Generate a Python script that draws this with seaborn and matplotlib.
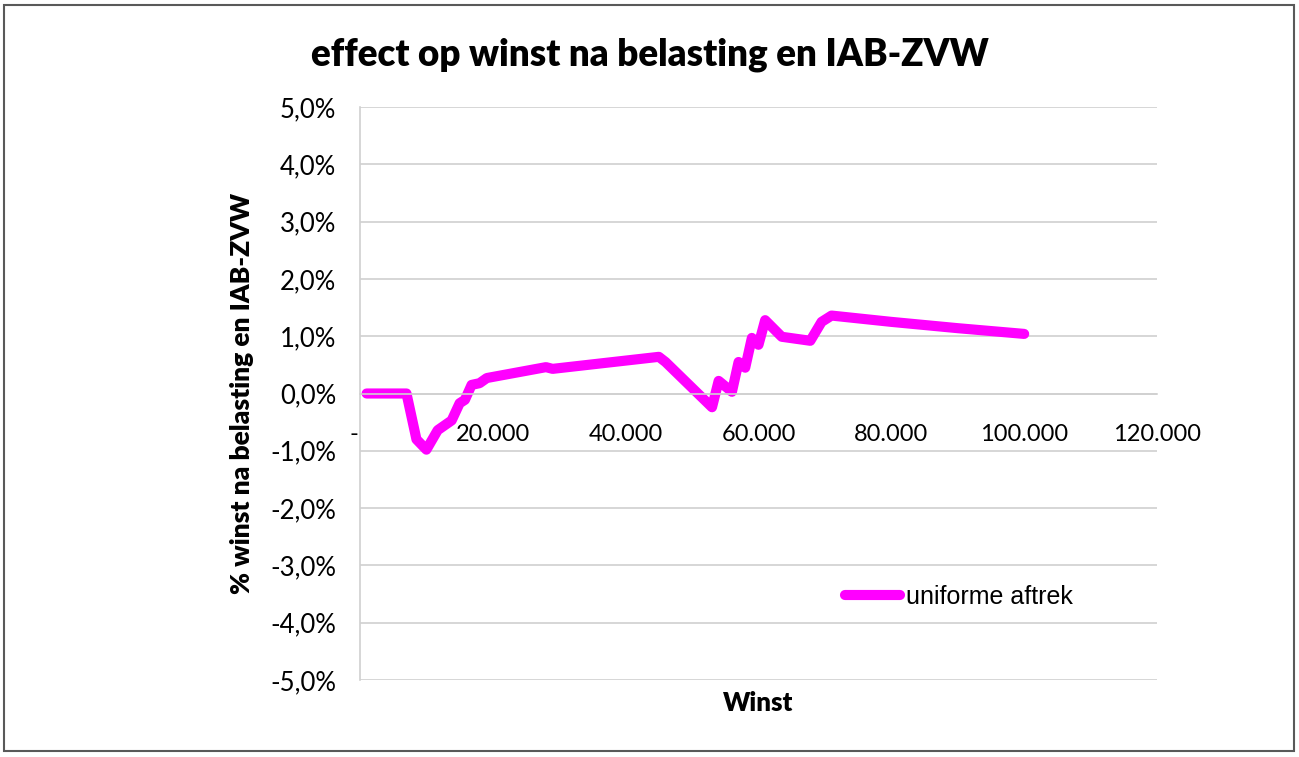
import matplotlib
matplotlib.use("Agg")
import matplotlib.pyplot as plt
import seaborn as sns
import pandas as pd
from matplotlib.patches import Rectangle
from matplotlib.ticker import FixedLocator, FuncFormatter

# Data (winst in euro, effect in %)
winst = [1000, 7000, 8500, 10000, 11700, 13800, 15000, 15800, 16800, 18000,
         19100, 28000, 29000, 45000, 46000, 53000, 54000, 56000, 57000, 58000,
         59000, 60000, 61000, 63500, 67800, 69500, 71000, 80000, 90000, 100000]
effect = [0.0, 0.0, -0.80, -0.98, -0.64, -0.47, -0.17, -0.11, 0.15, 0.18,
          0.27, 0.46, 0.43, 0.64, 0.55, -0.24, 0.22, 0.03, 0.55, 0.45,
          0.97, 0.85, 1.28, 0.99, 0.92, 1.25, 1.36, 1.25, 1.14, 1.04]
series_name = "uniforme aftrek"
x_ticks = [0, 20000, 40000, 60000, 80000, 100000, 120000]
x_labels = ["-  ", "20.000", "40.000", "60.000", "80.000", "100.000", "120.000"]
y_ticks = [-5, -4, -3, -2, -1, 0, 1, 2, 3, 4, 5]
title = "effect op winst na belasting en IAB-ZVW"
xlabel = "Winst"
ylabel = "% winst na belasting en IAB-ZVW"

sns.set_style("white")
plt.rcParams['font.family'] = ['Lato', 'DejaVu Sans']
plt.rcParams['text.color'] = 'black'

df = pd.DataFrame({"winst": winst, "effect": effect})

fig = plt.figure(figsize=(12.99, 7.57), dpi=100)
ax = fig.add_axes([360/1299, 1-680/757, 797/1299, 573/757])

sns.lineplot(data=df, x="winst", y="effect", ax=ax, sort=False, estimator=None,
             color="#FF00FF", linewidth=7.3, label=series_name,
             solid_joinstyle="round", solid_capstyle="round")

ax.set_xlim(0, 120000)
ax.set_ylim(-5, 5)
ax.yaxis.set_major_locator(FixedLocator(y_ticks))
ax.yaxis.set_major_formatter(FuncFormatter(lambda v, p: f"{v:.1f}%".replace(".", ",")))
ax.set_xticks(x_ticks)
ax.set_xticklabels(x_labels)
ax.grid(axis="y", color="#d0d0d0", linewidth=1.2)
ax.grid(axis="x", visible=False)
ax.set_axisbelow(True)

for s in ["top", "right"]:
    ax.spines[s].set_visible(False)
ax.spines["left"].set_color("#d0d0d0")
ax.spines["left"].set_linewidth(1.2)
ax.spines["bottom"].set_position(("data", 0))
ax.spines["bottom"].set_color("#d0d0d0")
ax.spines["bottom"].set_linewidth(1.2)

ax.tick_params(axis="x", direction="out", length=8, width=1.2, color="#d0d0d0",
               pad=14, labelsize=17, labelcolor="black")
ax.tick_params(axis="y", length=0, pad=17, labelsize=18.5, labelcolor="black")
ax.set_xlabel("")
ax.set_ylabel("")

leg = ax.legend(loc="center left", bbox_to_anchor=(485/797, 1-(597-107)/573),
                frameon=False, handlelength=2.2, handletextpad=0.25,
                borderpad=0, borderaxespad=0,
                prop={"family": "Liberation Sans", "size": 18})
for h in leg.get_lines():
    h.set_solid_capstyle("round")
for t in leg.get_texts():
    t.set_color("black")

fig.text(650/1299, 1-55/757, title, ha="center", va="center",
         fontsize=26.5, fontweight="heavy", color="black")
fig.text(758/1299, 1-703/757, xlabel, ha="center", va="center",
         fontsize=18.5, fontweight="heavy", color="black")
fig.text(242/1299, 1-393/757, ylabel, ha="center", va="center",
         fontsize=19, fontweight="heavy", rotation=90, color="black")

fig.patches.append(Rectangle((4/1299, 1-751/757), 1290/1299, 746/757,
                             transform=fig.transFigure, fill=False,
                             edgecolor="#595959", linewidth=1.5))

fig.savefig("out.png", dpi=100)
